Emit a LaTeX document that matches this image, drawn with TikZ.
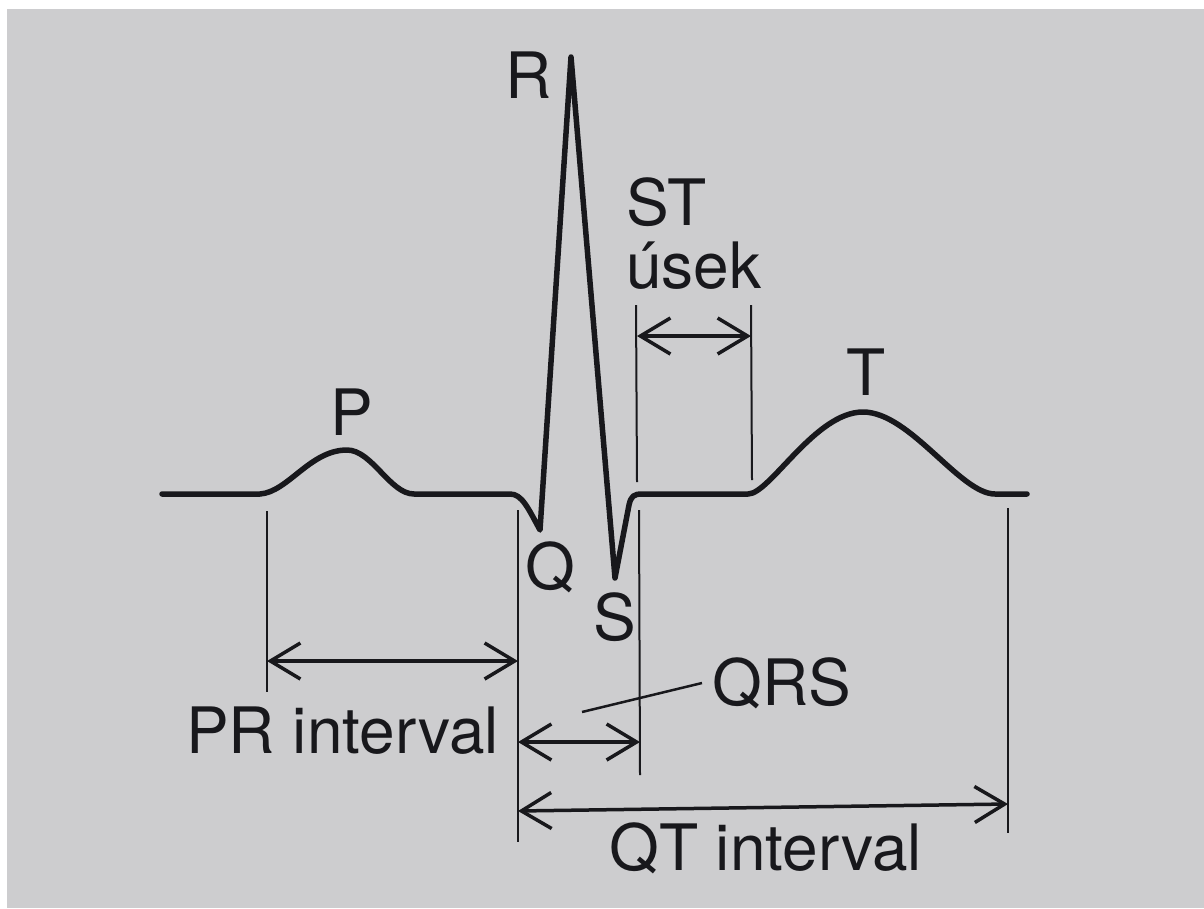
\documentclass[tikz,border=0pt]{standalone}
\usepackage{fontspec}
\setmainfont{TeX Gyre Heros}
\usetikzlibrary{arrows.meta}
\definecolor{paper}{RGB}{205,205,207}
\definecolor{ink}{RGB}{24,24,28}
\tikzset{
  trace/.style={draw=ink,line width=5.5pt,line join=round,line cap=round},
  guide/.style={draw=ink,line width=2pt},
  dimarrow/.style={draw=ink,line width=3.5pt,{Straight Barb[length=30pt,width=36pt]}-{Straight Barb[length=30pt,width=36pt]}},
  leader/.style={draw=ink,line width=2.5pt},
  lbl/.style={inner sep=0pt,anchor=base west,text=ink,font=\fontsize{64}{70}\selectfont}
}
\begin{document}
\begin{tikzpicture}[x=1pt,y=-1pt]
\useasboundingbox (0,0) rectangle (1204,908);
\fill[white] (0,0) rectangle (1204,908);
\fill[paper] (7,9) rectangle (1204,908);

% ECG trace
\draw[trace] (162,494) -- (260,494)
  .. controls (288,492) and (310,450) .. (347,450)
  .. controls (372,450) and (390,494) .. (414,494)
  -- (510,494)
  .. controls (522,494) and (528,508) .. (540,530)
  -- (571,57)
  -- (615,578)
  -- (629,505)
  .. controls (631,496) and (634,494) .. (642,494)
  -- (748,494)
  .. controls (770,494) and (815,412) .. (863,412)
  .. controls (910,412) and (960,494) .. (995,494)
  -- (1027,494);

% guide lines
\coordinate (g1t) at (267,511); \coordinate (g1b) at (267,692);
\coordinate (g2t) at (518,510); \coordinate (g2b) at (518,842);
\coordinate (g3t) at (639,510); \coordinate (g3b) at (640,775);
\coordinate (g4t) at (636,305); \coordinate (g4b) at (637,482);
\coordinate (g5t) at (751,305); \coordinate (g5b) at (752,480);
\coordinate (g6t) at (1008,508); \coordinate (g6b) at (1008,833);
\draw[guide] (g1t) -- (g1b);
\draw[guide] (g2t) -- (g2b);
\draw[guide] (g3t) -- (g3b);
\draw[guide] (g4t) -- (g4b);
\draw[guide] (g5t) -- (g5b);
\draw[guide] (g6t) -- (g6b);

% dimension arrows
\coordinate (prL) at (267,661); \coordinate (prR) at (518,661);
\coordinate (qrsL) at (518,742); \coordinate (qrsR) at (640,742);
\coordinate (qtL) at (518,811); \coordinate (qtR) at (1008,804);
\coordinate (stL) at (637,336); \coordinate (stR) at (751,336);
\draw[dimarrow] (prL) -- (prR);
\draw[dimarrow] (qrsL) -- (qrsR);
\draw[dimarrow] (qtL) -- (qtR);
\draw[dimarrow] (stL) -- (stR);

% labels
\node[lbl] (lR) at (505,98) {R};
\node[lbl] (lP) at (330,435) {P};
\node[lbl] (lQ) at (525,589) {Q};
\node[lbl] (lS) at (593,640) {S};
\node[lbl] (lST) at (626,225) {ST};
\node[lbl] (lusek) at (626,288) {úsek};
\node[lbl,anchor=base] (lT) at (866,395) {T};
\node[lbl] (lQRS) at (712,705) {QRS};
\node[lbl] (lPR) at (186,753) {PR interval};
\node[lbl] (lQT) at (609,870) {QT interval};

% QRS leader
\coordinate (ldA) at (582,712);
\coordinate (ldB) at (702,683);
\draw[leader] (ldA) -- (ldB);
\end{tikzpicture}
\end{document}
